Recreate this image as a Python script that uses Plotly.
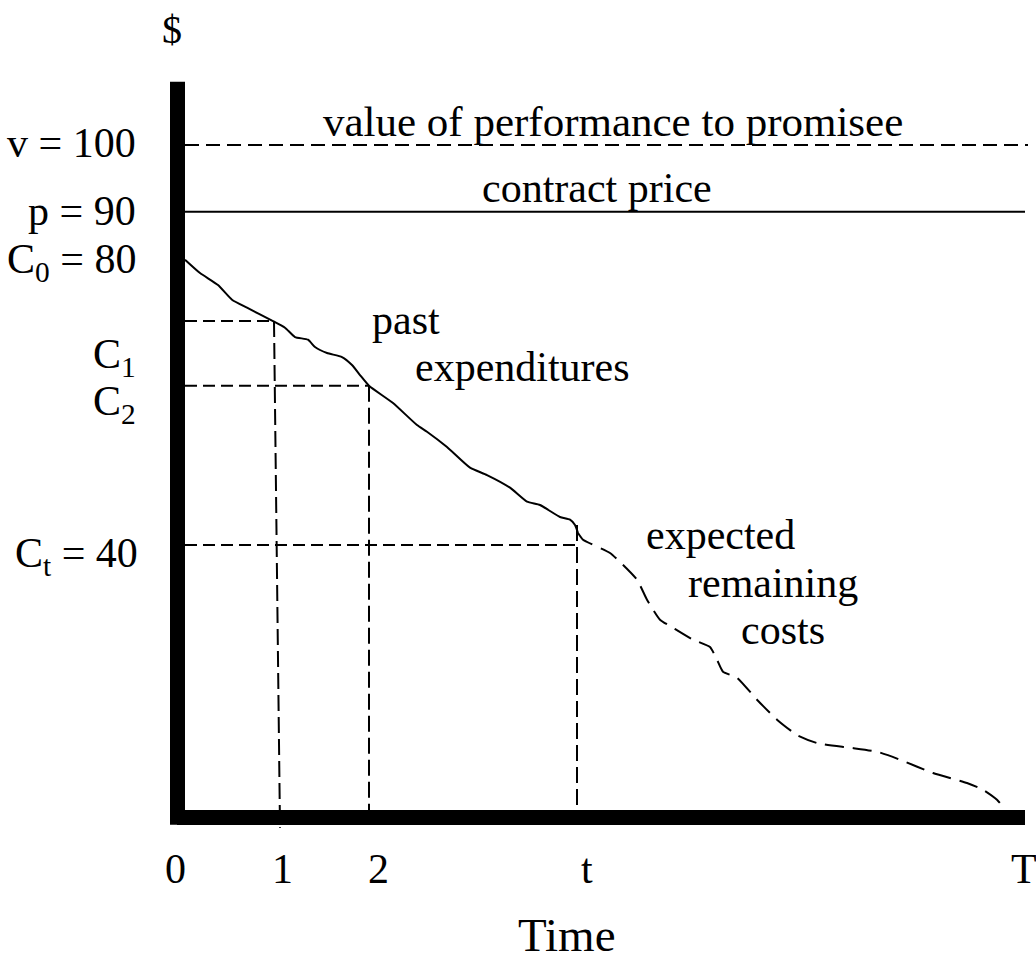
import plotly.graph_objects as go

# ---- data (time units, dollars) ----
past_time = [0.07, 0.22, 0.40, 0.54, 0.69, 0.95, 1.07, 1.17, 1.30, 1.37, 1.49, 1.64, 1.74, 1.82,
             1.91, 2.15, 2.39, 2.49, 2.69, 2.92, 3.09, 3.32, 3.49, 3.62, 3.82, 3.92, 3.97, 4.00]
past_cost = [82.8, 80.8, 79.0, 76.8, 75.6, 73.6, 72.6, 71.2, 70.8, 69.7, 68.8, 68.2, 67.0, 65.5,
             63.9, 61.3, 58.0, 57.0, 54.7, 51.6, 50.5, 48.6, 46.5, 46.0, 44.2, 43.8, 43.0, 41.8]
future_time = [4.00, 4.05, 4.32, 4.59, 4.69, 4.82, 4.95, 5.15, 5.32, 5.39, 5.45, 5.59, 5.79, 5.99,
               6.19, 6.39, 6.72, 6.99, 7.22, 7.55, 7.89, 8.05, 8.19, 8.25]
future_cost = [41.8, 40.8, 38.8, 34.8, 31.8, 28.8, 27.6, 25.8, 24.7, 22.8, 21.0, 20.1, 16.8, 13.8,
               11.5, 10.3, 9.6, 9.0, 7.8, 5.8, 4.3, 3.3, 1.8, 0.7]

value_v = 100
price_p = 90
cost_c1 = 73.6
cost_c2 = 63.9
cost_ct = 40

guide_top_time = [0.96, 1.91, 3.99]
guide_bottom_time = [1.02, 1.91, 3.99]
guide_top_cost = [cost_c1, cost_c2, 43.0]
guide_bottom_cost = [-2.4, -0.3, -0.3]

tick_labels = ["0", "1", "2", "t", "T"]
tick_pos = [-0.03, 1.04, 2.00, 4.09, 8.46]

x_end = 8.47
y_top = 109.5
axis_level = -0.87

FONT = "Liberation Serif"
BLACK = "#000000"

fig = go.Figure()

# expenditures curve
fig.add_trace(go.Scatter(x=past_time, y=past_cost, mode="lines",
                         line=dict(color=BLACK, width=2, shape="spline", smoothing=0.5),
                         hoverinfo="skip", showlegend=False))
fig.add_trace(go.Scatter(x=future_time, y=future_cost, mode="lines",
                         line=dict(color=BLACK, width=2, dash="19px,9px", shape="spline", smoothing=0.5),
                         hoverinfo="skip", showlegend=False))

# value line (dashed) and price line (solid)
fig.add_trace(go.Scatter(x=[0.07, 8.50], y=[value_v, value_v], mode="lines",
                         line=dict(color=BLACK, width=2, dash="14px,7px"),
                         hoverinfo="skip", showlegend=False))
fig.add_trace(go.Scatter(x=[0.07, x_end], y=[price_p, price_p], mode="lines",
                         line=dict(color=BLACK, width=2),
                         hoverinfo="skip", showlegend=False))

# horizontal guides
for xe, yv in zip([0.95, 1.91, 3.99], [cost_c1, cost_c2, cost_ct]):
    fig.add_trace(go.Scatter(x=[0.07, xe], y=[yv, yv], mode="lines",
                             line=dict(color=BLACK, width=2, dash="12px,6px"),
                             hoverinfo="skip", showlegend=False))
# vertical guides
for xt, xb, yt, yb in zip(guide_top_time, guide_bottom_time, guide_top_cost, guide_bottom_cost):
    fig.add_trace(go.Scatter(x=[xt, xb], y=[yt, yb], mode="lines",
                             line=dict(color=BLACK, width=2, dash="16px,6px"),
                             hoverinfo="skip", showlegend=False))

# thick axes
fig.add_shape(type="line", x0=-0.005, x1=-0.005, y0=axis_level - 1.1, y1=y_top,
              line=dict(color=BLACK, width=15), xref="x", yref="y")
fig.add_shape(type="line", x0=-0.01, x1=x_end, y0=axis_level, y1=axis_level,
              line=dict(color=BLACK, width=15), xref="x", yref="y")

def ann(text, x, y, size=42, xanchor="center"):
    fig.add_annotation(text=text, x=x, y=y, xref="x", yref="y", showarrow=False,
                       xanchor=xanchor, yanchor="middle",
                       font=dict(family=FONT, size=size, color=BLACK))

ann("$", -0.06, 117.3, size=40)
ann("v = 100", -0.40, 100.3, xanchor="right")
ann("p = 90", -0.40, 90.1, xanchor="right")
ann("C<sub>0</sub> = 80", -0.40, 82.5, xanchor="right")
ann("C<sub>1</sub>", -0.40, 68.2, xanchor="right")
ann("C<sub>2</sub>", -0.40, 61.2, xanchor="right")
ann("C<sub>t</sub> = 40", -0.38, 38.4, xanchor="right")
ann("value of performance to promisee", 4.35, 103.5, size=43)
ann("contract price", 4.19, 93.6)
ann("past", 2.28, 73.8)
ann("expenditures", 3.44, 66.7)
ann("expected", 5.42, 41.5)
ann("remaining", 5.95, 34.3)
ann("costs", 6.05, 27.3)
for lab, xp in zip(tick_labels, tick_pos):
    ann(lab, xp, -8.6)
ann("Time", 3.89, -18.5, size=47)

fig.update_layout(
    width=1036, height=961,
    margin=dict(l=0, r=0, t=0, b=0),
    paper_bgcolor="white", plot_bgcolor="white",
    xaxis=dict(range=[-1.78, 8.58], visible=False, fixedrange=True),
    yaxis=dict(range=[-22.395, 121.755], visible=False, fixedrange=True),
    showlegend=False,
)

fig.write_html("out.html", config={"displayModeBar": False},
               post_script="document.body.style.margin='0';document.body.style.overflow='hidden';")
